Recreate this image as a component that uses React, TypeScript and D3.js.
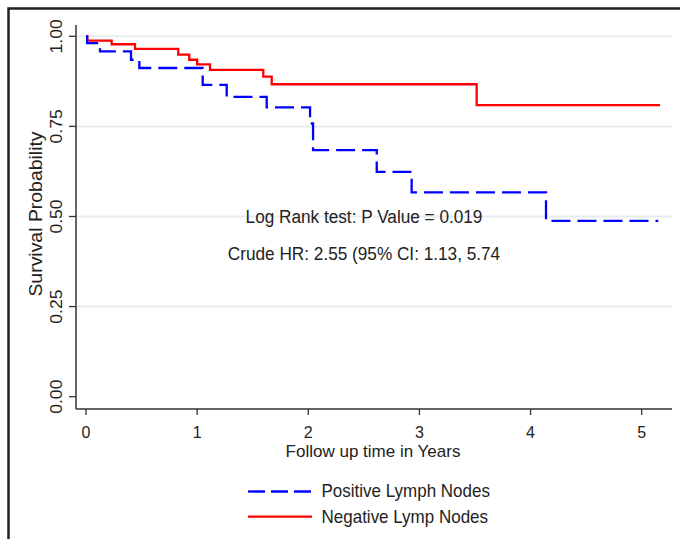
import * as d3 from 'd3'

// Kaplan-Meier steps (time in years, survival probability)
const posTimes = [0, 0.01, 0.126, 0.405, 0.48, 1.05, 1.266, 1.626, 2.016, 2.043, 2.616, 2.93, 4.139, 5.149]
const posSurv = [1.0, 0.981, 0.958, 0.935, 0.912, 0.865, 0.832, 0.803, 0.758, 0.684, 0.624, 0.567, 0.488, 0.488]
const negTimes = [0, 0.012, 0.231, 0.441, 0.83, 0.929, 1.0, 1.116, 1.595, 1.671, 3.515, 5.165]
const negSurv = [1.0, 0.988, 0.978, 0.965, 0.949, 0.935, 0.922, 0.907, 0.888, 0.867, 0.809, 0.809]

const xTicks = [0, 1, 2, 3, 4, 5]
const yTicks = [0, 0.25, 0.5, 0.75, 1]
const gridTicks = [0.25, 0.5, 0.75, 1]
const seriesNames = ['Positive Lymph Nodes', 'Negative Lymp Nodes']
const annotations = ['Log Rank test: P Value = 0.019', 'Crude HR: 2.55 (95% CI: 1.13, 5.74']

const font = '"Liberation Sans", Arial, sans-serif'
// the source image is a bit stretched vertically, text too
const stretch = 1.08

function Label({x, y, size, anchor = 'start', sy = stretch, children}: {
  x: number, y: number, size: number, anchor?: string, sy?: number, children: any
}) {
  return (
    <text transform={`translate(${x},${y}) scale(1,${sy})`} textAnchor={anchor} fontSize={size}
          fill="#222">{children}</text>
  )
}

export default function App() {
  const width = 680
  const height = 539
  const axisLeft = 76
  const axisRight = 672
  const axisBottom = 409
  const axisTop = 25

  const x = d3.scaleLinear([0, 5], [86, 641.7])
  const y = d3.scaleLinear([0, 1], [396.7, 36.3])

  const line = d3.line<[number, number]>()
    .x(d => x(d[0]))
    .y(d => y(d[1]))
    .curve(d3.curveStepAfter)

  const posPath = line(posTimes.map((t, i) => [t, posSurv[i]]) as [number, number][]) ?? ''
  const negPath = line(negTimes.map((t, i) => [t, negSurv[i]]) as [number, number][]) ?? ''

  const blue = '#0000ff'
  const red = '#ff0000'
  const axisColor = '#333'

  return (
    <svg width={width} height={height} style={{position: 'absolute', left: 0, top: 0, background: '#fff'}}
         fontFamily={font}>
      <rect x={0} y={0} width={width} height={height} fill="#fff"/>
      {/* outer frame, runs off the right and bottom edges */}
      <rect x={8.5} y={8.5} width={width + 20} height={height + 20} fill="none" stroke="#222" strokeWidth={2.5}/>

      {gridTicks.map(v => (
        <line key={v} x1={axisLeft} x2={axisRight} y1={y(v)} y2={y(v)} stroke="#e6edf1" strokeWidth={2}/>
      ))}

      {/* axes */}
      <line x1={axisLeft} x2={axisLeft} y1={axisTop} y2={axisBottom} stroke={axisColor} strokeWidth={1.5}/>
      <line x1={axisLeft} x2={axisRight} y1={axisBottom} y2={axisBottom} stroke={axisColor} strokeWidth={1.5}/>

      {yTicks.map(v => (
        <g key={v}>
          <line x1={69} x2={axisLeft} y1={y(v)} y2={y(v)} stroke={axisColor} strokeWidth={1.3}/>
          <text transform={`translate(61.5,${y(v)}) rotate(-90) scale(${stretch},1)`} textAnchor="middle"
                fontSize={16.3} fill="#222">{v.toFixed(2)}</text>
        </g>
      ))}
      {xTicks.map(v => (
        <g key={v}>
          <line x1={x(v)} x2={x(v)} y1={axisBottom} y2={415} stroke={axisColor} strokeWidth={1.3}/>
          <Label x={x(v)} y={437.5} size={16} anchor="middle" sy={1}>{v}</Label>
        </g>
      ))}

      <text transform={`translate(41.5,214) rotate(-90) scale(${stretch},1)`} textAnchor="middle" fontSize={18}
            fill="#222">
        Survival Probability
      </text>
      <Label x={373} y={456.5} size={17} anchor="middle" sy={1}>Follow up time in Years</Label>

      {/* curves */}
      <path d={negPath} fill="none" stroke={red} strokeWidth={2.3}/>
      <path d={posPath} fill="none" stroke={blue} strokeWidth={2.3} strokeDasharray="19,7"/>

      {annotations.map((s, i) => (
        <Label key={s} x={364} y={223 + i * 36.5} size={17.2} anchor="middle">{s}</Label>
      ))}

      {/* legend */}
      <line x1={248} x2={312} y1={491.5} y2={491.5} stroke={blue} strokeWidth={2.3} strokeDasharray="17,6"/>
      <line x1={248} x2={312} y1={516.7} y2={516.7} stroke={red} strokeWidth={2.3}/>
      {seriesNames.map((s, i) => (
        <Label key={s} x={321.5} y={496.7 + i * 25.8} size={17}>{s}</Label>
      ))}
    </svg>
  )
}
